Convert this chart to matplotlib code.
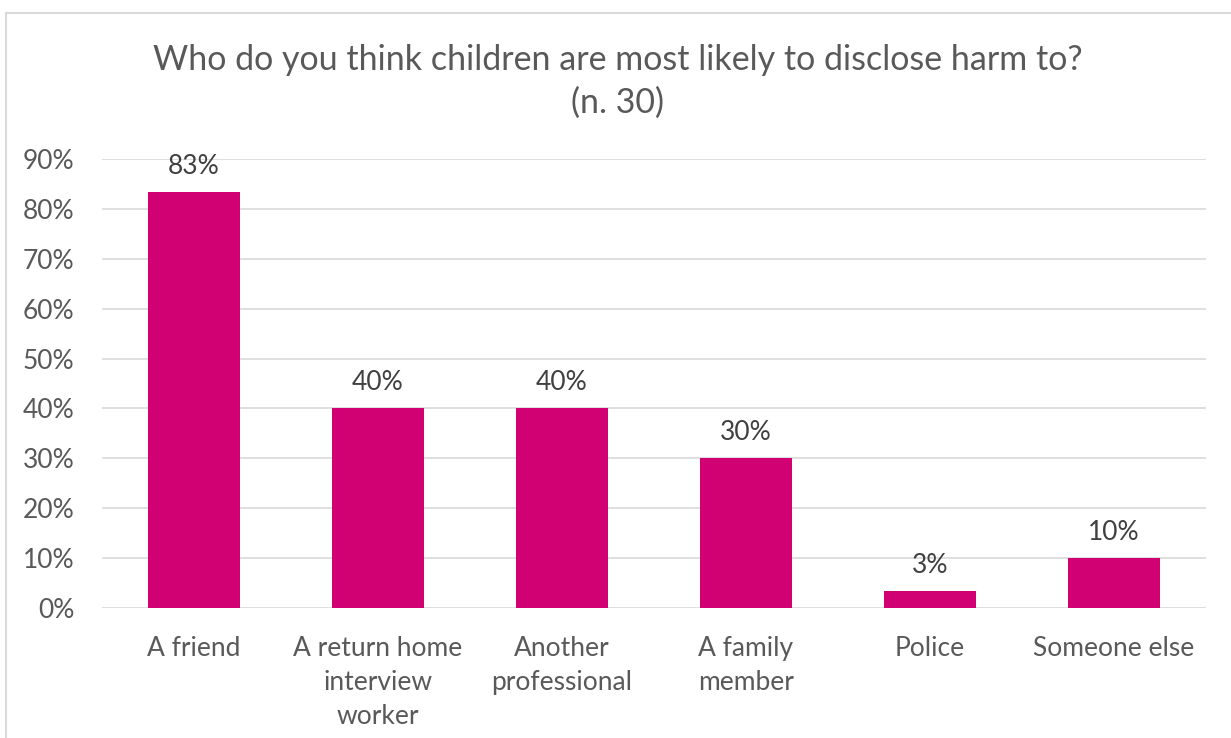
import matplotlib
matplotlib.use("Agg")
import matplotlib.pyplot as plt
from matplotlib.patches import Rectangle

categories = ["A friend", "A return home\ninterview\nworker", "Another\nprofessional",
              "A family\nmember", "Police", "Someone else"]
values = [83.33, 40, 40, 30, 3.33, 10]
value_labels = ["83%", "40%", "40%", "30%", "3%", "10%"]
yticks = [0, 10, 20, 30, 40, 50, 60, 70, 80, 90]
ytick_labels = [f"{t}%" for t in yticks]

plt.rcParams['font.family'] = ['Lato', 'DejaVu Sans']
text_color = "#595959"
bar_color = "#D10073"
grid_color = "#D9D9D9"
fs = 19

W, H = 1231, 738
fig = plt.figure(figsize=(W / 100, H / 100), dpi=100)

# chart frame
fig.patches.append(Rectangle((6 / W, -0.1), 1.2, 1 - 13 / H + 0.1,
                             transform=fig.transFigure, fill=False,
                             edgecolor=grid_color, linewidth=1.5))

ax = fig.add_axes([102 / W, 1 - 608 / H, (1206 - 102) / W, (608 - 159) / H])
x = list(range(len(categories)))
ax.bar(x, values, width=0.5, color=bar_color, zorder=3)
for xi, v, lab in zip(x, values, value_labels):
    ax.text(xi, v + 5.2, lab, ha="center", va="center", fontsize=fs, color="#404040")

ax.set_xlim(-0.5, len(categories) - 0.5)
ax.set_ylim(0, 90)
ax.set_yticks(yticks)
ax.set_yticklabels(ytick_labels, fontsize=fs, color=text_color)
ax.set_xticks(x)
ax.set_xticklabels(categories, fontsize=fs, color=text_color, linespacing=1.45)
ax.tick_params(axis="both", length=0)
ax.tick_params(axis="x", pad=20)
ax.tick_params(axis="y", pad=20)
ax.yaxis.grid(True, color=grid_color, linewidth=1.2, zorder=0)
for s in ax.spines.values():
    s.set_visible(False)

fig.text(0.502, 1 - 60 / H, "Who do you think children are most likely to disclose harm to?",
         ha="center", va="center", fontsize=24.5, color=text_color)
fig.text(0.502, 1 - 103 / H, "(n. 30)", ha="center", va="center", fontsize=24.5, color=text_color)

fig.savefig("out.png", dpi=100, facecolor="white")
